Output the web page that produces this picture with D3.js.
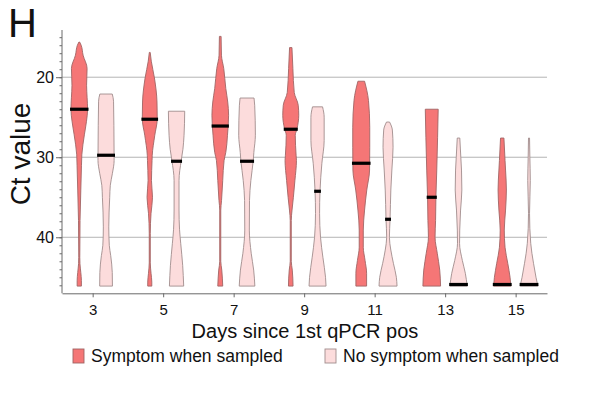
<!DOCTYPE html>
<html>
<head>
<meta charset="utf-8">
<script src="https://cdn.jsdelivr.net/npm/d3@7"></script>
<style>
  html, body { margin: 0; padding: 0; background: #ffffff; }
  svg { display: block; font-family: "Liberation Sans", Arial, Helvetica, sans-serif; }
</style>
</head>
<body>
<svg id="chart" width="589" height="397"></svg>
<script>
// ---------- data ----------
const days = [3, 5, 7, 9, 11, 13, 15];
const seriesNames = ["Symptom when sampled", "No symptom when sampled"];
const yTickValues = [20, 30, 40];
const panelLabel = "H";
const xTitle = "Days since 1st qPCR pos";
const yTitle = "Ct value";

// medians (black bars), Ct
const symptomMedian   = [24.0, 25.25, 26.1, 26.5, 30.75, 35.0, 45.9];
const noSymptomMedian = [29.75, 30.5, 30.5, 34.25, 37.75, 45.9, 45.9];

// violin profiles: [Ct, relative density (half width)]
const symptomProfiles = [
  [[15.6,0.04],[16.0,0.22],[17.25,0.45],[18.9,0.92],[21.0,0.86],[22.5,0.92],[24.0,0.98],[25.5,0.85],[27.2,0.6],[29.7,0.3],[31.0,0.26],[34.1,0.18],[37.9,0.09],[42.5,0.06],[43.3,0.08],[44.4,0.18],[45.4,0.25],[46.1,0.25]],
  [[16.9,0.05],[18.0,0.18],[20.1,0.55],[23.1,0.85],[25.2,0.88],[27.25,0.59],[29.75,0.29],[30.4,0.27],[32.9,0.2],[35.0,0.32],[37.0,0.15],[39.5,0.06],[43.2,0.06],[44.5,0.15],[45.6,0.24],[46.1,0.24]],
  [[14.9,0.1],[17.25,0.14],[18.9,0.41],[21.4,0.65],[23.1,0.88],[24.75,0.98],[27.25,0.85],[29.4,0.65],[30.4,0.45],[32.9,0.29],[35.4,0.15],[36.6,0.06],[43.0,0.06],[44.1,0.18],[46.1,0.29]],
  [[16.3,0.14],[18.9,0.25],[21.9,0.41],[23.5,0.88],[24.75,0.94],[26.5,0.72],[27.25,0.53],[29.75,0.63],[30.4,0.67],[32.9,0.49],[35.0,0.31],[36.6,0.15],[37.9,0.06],[43.0,0.06],[44.1,0.18],[46.1,0.27]],
  [[20.5,0.39],[22.9,0.85],[26.25,1.0],[28.75,1.0],[31.6,0.98],[34.1,0.65],[36.6,0.39],[39.1,0.24],[41.25,0.24],[42.9,0.45],[44.5,0.63],[46.1,0.63]],
  [[24.0,0.76],[27.5,0.69],[31.6,0.59],[35.0,0.49],[37.9,0.45],[40.0,0.39],[42.0,0.65],[44.1,0.94],[46.1,1.04]],
  [[27.6,0.2],[30.4,0.33],[31.6,0.39],[34.1,0.49],[36.6,0.39],[39.1,0.24],[41.25,0.33],[43.25,0.65],[45.0,0.92],[46.1,1.02]]
];
const noSymptomProfiles = [
  [[22.1,0.73],[23.0,0.88],[26.0,0.92],[30.4,0.95],[32.0,0.75],[33.5,0.5],[35.0,0.43],[38.7,0.32],[41.0,0.38],[42.3,0.55],[44.4,0.73],[46.1,0.75]],
  [[24.25,0.96],[27.25,0.88],[29.0,0.75],[30.4,0.55],[32.9,0.29],[36.6,0.29],[39.0,0.35],[40.75,0.49],[43.5,0.72],[46.1,0.84]],
  [[22.6,0.82],[23.5,0.9],[27.25,0.98],[29.4,0.8],[30.4,0.73],[32.9,0.45],[35.4,0.29],[39.1,0.27],[42.0,0.49],[44.1,0.78],[46.1,0.92]],
  [[23.7,0.59],[25.0,0.78],[27.9,0.78],[30.75,0.51],[34.25,0.29],[37.0,0.24],[40.0,0.35],[42.5,0.63],[45.0,0.94],[46.1,1.0]],
  [[25.6,0.18],[26.6,0.51],[28.75,0.59],[31.6,0.45],[34.1,0.33],[37.75,0.24],[40.0,0.16],[41.6,0.33],[43.25,0.63],[45.0,0.98],[46.1,1.06]],
  [[27.6,0.15],[30.0,0.27],[31.6,0.35],[34.1,0.39],[36.6,0.24],[39.1,0.14],[40.75,0.12],[42.9,0.45],[44.5,0.8],[46.1,1.02]],
  [[27.6,0.06],[30.0,0.1],[32.9,0.15],[37.0,0.06],[40.75,0.2],[43.25,0.53],[45.0,0.82],[46.1,1.04]]
];

// ---------- layout & styles ----------
const W = 589, H = 397;
const plot = { left: 62, right: 547, top: 30, bottom: 293.3 };
const seriesOffset = [-0.38, 0.38];           // days
const fills   = ["#f57676", "#fcdcdc"];
const strokes = ["#a06464", "#a08c8c"];
const axisColor = "#6a6a6a";
const gridColor = "#b4b4b4";
const textColor = "#111111";

const svg = d3.select("#chart");

const x = d3.scaleLinear().domain([2.13, 15.89]).range([plot.left, plot.right]);
const y = d3.scaleLinear().domain([14.1, 47]).range([plot.top, plot.bottom]);
const w = d3.scaleLinear().domain([0, 1]).range([0, 8.5]);

// gridlines
svg.append("g").selectAll("line").data(yTickValues).join("line")
  .attr("x1", plot.left).attr("x2", plot.right)
  .attr("y1", d => y(d)).attr("y2", d => y(d))
  .attr("stroke", gridColor).attr("stroke-width", 1);

// violins
const series = [
  { profiles: symptomProfiles, medians: symptomMedian },
  { profiles: noSymptomProfiles, medians: noSymptomMedian }
];

function widthAt(profile, ct) {
  const cts = profile.map(p => p[0]);
  const ws = profile.map(p => p[1]);
  const s = d3.scaleLinear().domain(cts).range(ws).clamp(true);
  return s(ct);
}

series.forEach((s, si) => {
  const g = svg.append("g");
  days.forEach((day, di) => {
    const cx = x(day + seriesOffset[si]);
    const area = d3.area()
      .curve(d3.curveMonotoneY)
      .y(d => y(d[0]))
      .x0(d => cx - w(d[1]))
      .x1(d => cx + w(d[1]));
    g.append("path")
      .attr("d", area(s.profiles[di]))
      .attr("fill", fills[si])
      .attr("stroke", strokes[si])
      .attr("stroke-width", 0.9)
      .attr("stroke-linejoin", "round");
  });
  // median bars
  days.forEach((day, di) => {
    const cx = x(day + seriesOffset[si]);
    const m = s.medians[di];
    const hw = w(widthAt(s.profiles[di], m)) + 0.9;
    g.append("rect")
      .attr("x", cx - hw).attr("width", hw * 2)
      .attr("y", y(m) - 1.6).attr("height", 3.2)
      .attr("fill", "#000000");
  });
});

// y axis
const yAxisMinor = d3.axisLeft(y).tickValues(d3.range(15, 47)).tickSize(2.5).tickFormat("");
svg.append("g").attr("transform", `translate(${plot.left},0)`).call(yAxisMinor)
  .call(g => g.select(".domain").remove())
  .call(g => g.selectAll("line").attr("stroke", axisColor));
const yAxis = d3.axisLeft(y).tickValues(yTickValues).tickSize(6).tickPadding(2).tickSizeOuter(0);
svg.append("g").attr("transform", `translate(${plot.left},0)`).call(yAxis)
  .call(g => g.select(".domain").attr("stroke", axisColor).attr("d", `M0,${plot.top}V${plot.bottom}`))
  .call(g => g.selectAll("line").attr("stroke", axisColor))
  .call(g => g.selectAll("text").attr("font-size", 16).attr("fill", textColor)
    .attr("font-family", "Liberation Sans, Arial, sans-serif"));

// x axis
const xAxis = d3.axisBottom(x).tickValues(days).tickSize(4).tickPadding(7).tickSizeOuter(0);
svg.append("g").attr("transform", `translate(0,${plot.bottom})`).call(xAxis)
  .call(g => g.select(".domain").attr("stroke", axisColor))
  .call(g => g.selectAll("line").attr("stroke", axisColor))
  .call(g => g.selectAll("text").attr("font-size", 15).attr("fill", textColor)
    .attr("font-family", "Liberation Sans, Arial, sans-serif"));

// titles
svg.append("text").attr("x", 8).attr("y", 37).attr("font-size", 40).attr("fill", textColor).text(panelLabel);
svg.append("text").attr("transform", "translate(30,154) rotate(-90)").attr("text-anchor", "middle")
  .attr("font-size", 28).attr("fill", textColor).text(yTitle);
svg.append("text").attr("x", 305).attr("y", 338).attr("text-anchor", "middle")
  .attr("font-size", 20).attr("fill", textColor).text(xTitle);

// legend
const legendX = [73, 325];
const legend = svg.append("g");
seriesNames.forEach((name, i) => {
  legend.append("rect").attr("x", legendX[i]).attr("y", 349).attr("width", 11).attr("height", 14)
    .attr("fill", fills[i]).attr("stroke", strokes[i]).attr("stroke-width", 0.9);
  legend.append("text").attr("x", legendX[i] + 18).attr("y", 362)
    .attr("font-size", 17.5).attr("fill", textColor).text(name);
});
</script>
</body>
</html>
